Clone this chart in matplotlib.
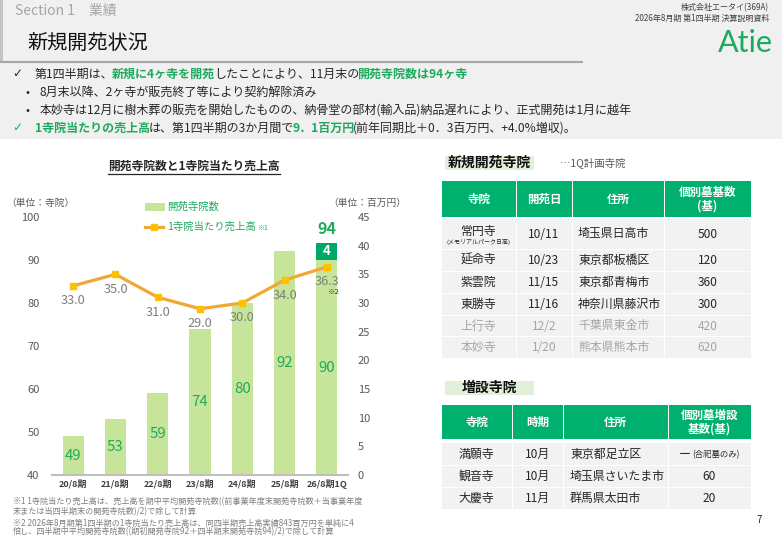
import numpy as np
import matplotlib
matplotlib.use('Agg')
import matplotlib.pyplot as plt
from matplotlib.patches import Rectangle

plt.rcParams['font.family'] = ['Noto Sans CJK JP', 'DejaVu Sans']

# ---------------- data ----------------
periods = ['20/8期', '21/8期', '22/8期', '23/8期', '24/8期', '25/8期', '26/8期1Q']
temples = [49, 53, 59, 74, 80, 92, 90]
new_open = [0, 0, 0, 0, 0, 0, 4]
sales_per_temple = [33.0, 35.0, 31.0, 29.0, 30.0, 34.0, 36.3]
left_ticks = [40, 50, 60, 70, 80, 90, 100]
right_ticks = [0, 5, 10, 15, 20, 25, 30, 35, 40, 45]

tbl1_header = ['寺院', '開苑日', '住所', '個別墓基数\n(基)']
tbl1_temple = ['常円寺', '延命寺', '紫雲院', '東勝寺', '上行寺', '本妙寺']
tbl1_date = ['10/11', '10/23', '11/15', '11/16', '12/2', '1/20']
tbl1_addr = ['埼玉県日高市', '東京都板橋区', '東京都青梅市', '神奈川県藤沢市', '千葉県東金市', '熊本県熊本市']
tbl1_graves = ['500', '120', '360', '300', '420', '620']
tbl1_planned = [False, False, False, False, True, True]

tbl2_header = ['寺院', '時期', '住所', '個別墓増設\n基数(基)']
tbl2_temple = ['満願寺', '観音寺', '大慶寺']
tbl2_period = ['10月', '10月', '11月']
tbl2_addr = ['東京都足立区', '埼玉県さいたま市', '群馬県太田市']
tbl2_graves = ['ー', '60', '20']

# ---------------- colours ----------------
GREEN_TXT = '#1EAA5E'
GREEN_HDR = '#00B06E'
BAR_LIGHT = '#C6E59B'
BAR_DARK = '#00A867'
ORANGE = '#F0A832'
YELLOW = '#FFC000'
DARK = '#262626'
GRAY = '#595959'

fig = plt.figure(figsize=(7.82, 5.4), dpi=100)
fig.patch.set_facecolor('white')
bg = fig.add_axes([0, 0, 1, 1])
bg.set_xlim(0, 782)
bg.set_ylim(540, 0)
bg.axis('off')
renderer = fig.canvas.get_renderer()

# header band
bg.add_patch(Rectangle((0, 0), 782, 139, color='#F0F0F0', lw=0))
bg.add_patch(Rectangle((0, 0), 3, 62, color='#C4C4C4', lw=0))
bg.plot([0, 583], [62, 62], color='#A6A6A6', lw=1.5, solid_capstyle='butt')

bg.text(15, 11, 'Section 1　業績', fontsize=10, color='#A6A6A6', va='center', ha='left')
bg.text(27, 43, '新規開苑状況', fontsize=14.5, color='#111111', va='center', ha='left')
bg.text(769, 8, '株式会社エータイ(369A)', fontsize=5.8, color='#404040', va='center', ha='right')
bg.text(769, 18, '2026年8月期 第1四半期 決算説明資料', fontsize=5.8, color='#404040', va='center', ha='right')
bg.text(773, 43, 'Atie', fontsize=22, color='#1DAA60', va='center', ha='right',
        family=['Lato', 'DejaVu Sans'])


def runs(x, y, parts, fs):
    for txt, col, w in parts:
        t = bg.text(x, y, txt, fontsize=fs, color=col, weight=w, va='center', ha='left')
        bb = t.get_window_extent(renderer=renderer)
        x += bb.width - 1.5


FS = 8.65
bg.text(12, 74, '✓', fontsize=FS, color=DARK, va='center', ha='left', family=['DejaVu Sans'])
runs(35, 74, [('第1四半期は、', DARK, 'normal'), ('新規に4ヶ寺を開苑', GREEN_TXT, 'bold'),
              ('したことにより、11月末の', DARK, 'normal'), ('開苑寺院数は94ヶ寺', GREEN_TXT, 'bold')], FS)
bg.text(25, 92, '•', fontsize=FS, color=DARK, va='center', ha='left')
runs(40, 92, [('8月末以降、2ヶ寺が販売終了等により契約解除済み', DARK, 'normal')], FS)
bg.text(25, 110, '•', fontsize=FS, color=DARK, va='center', ha='left')
runs(40, 110, [('本妙寺は12月に樹木葬の販売を開始したものの、納骨堂の部材(輸入品)納品遅れにより、正式開苑は1月に越年', DARK, 'normal')], FS)
bg.text(12, 128, '✓', fontsize=FS, color=GREEN_TXT, va='center', ha='left', family=['DejaVu Sans'])
runs(35, 128, [('1寺院当たりの売上高', GREEN_TXT, 'bold'), ('は、第1四半期の3か月間で', DARK, 'normal'),
               ('9．1百万円', GREEN_TXT, 'bold'), ('(前年同期比＋0．3百万円、+4.0%増収)。', DARK, 'normal')], FS)

# ---------------- chart ----------------
t = bg.text(194, 166, '開苑寺院数と1寺院当たり売上高', fontsize=8.5, weight='bold', color=DARK,
            ha='center', va='center')
bb = t.get_window_extent(renderer=renderer)
bg.plot([bb.x0, bb.x1], [174, 174], color=DARK, lw=0.9)

bg.text(40, 203, '（単位：寺院）', fontsize=7, color=GRAY, ha='center', va='center')
bg.text(367, 203, '（単位：百万円）', fontsize=7, color=GRAY, ha='center', va='center')

ax = fig.add_axes([52 / 782, 65 / 540, 296 / 782, 258 / 540])
ax.set_facecolor('none')
x = np.arange(len(periods))
ax.bar(x, temples, width=0.5, color=BAR_LIGHT, zorder=2)
ax.bar(x, new_open, width=0.5, bottom=temples, color=BAR_DARK, zorder=2)
ax.set_xlim(-0.5, 6.5)
ax.set_ylim(40, 100)
ax.set_yticks(left_ticks)
ax.set_xticks(x)
ax.set_xticklabels(periods, fontsize=6.5, color='#404040', weight='bold')
ax.tick_params(axis='y', length=0, labelsize=8, labelcolor=GRAY, pad=9)
ax.tick_params(axis='x', length=0, pad=3)
for s in ['top', 'left', 'right']:
    ax.spines[s].set_visible(False)
ax.spines['bottom'].set_color('#BFBFBF')
ax.spines['bottom'].set_linewidth(1.5)

for xi, v in zip(x, temples):
    ax.text(xi, (40 + v) / 2, f'{v}', ha='center', va='center', fontsize=10.8, color=GREEN_TXT, zorder=3)
for xi, v, n in zip(x, temples, new_open):
    if n:
        ax.text(xi, v + n / 2, f'{n}', ha='center', va='center', fontsize=9.5, color='white',
                weight='bold', zorder=3)
        ax.annotate(f'{v + n}', (xi, v + n), xytext=(0, 14), textcoords='offset pixels',
                    ha='center', va='center', fontsize=11.5, color=GREEN_TXT, weight='bold')

ax2 = ax.twinx()
ax2.set_ylim(0, 45)
ax2.set_yticks(right_ticks)
ax2.tick_params(axis='y', length=0, labelsize=8, labelcolor=GRAY, pad=7)
for s in ['top', 'left', 'right', 'bottom']:
    ax2.spines[s].set_visible(False)
ax2.plot(x, sales_per_temple, color=ORANGE, lw=2.3, marker='s', ms=4.5, mfc=YELLOW, mec=YELLOW,
         zorder=4)
for xi, v in zip(x, sales_per_temple):
    ax2.annotate(f'{v:.1f}', (xi, v), xytext=(0, -15), textcoords='offset pixels',
                 ha='center', va='center', fontsize=9.2, color='#7F7F7F')
ax2.annotate('※2', (x[-1], sales_per_temple[-1]), xytext=(7, -25), textcoords='offset pixels',
             ha='center', va='center', fontsize=5.5, color='#404040')

# legend (manual)
bg.add_patch(Rectangle((145, 203), 20, 8, color=BAR_LIGHT, lw=0))
bg.text(167, 207, '開苑寺院数', fontsize=7.5, color=GREEN_TXT, ha='left', va='center')
bg.plot([145, 163], [227, 227], color=ORANGE, lw=2.3)
bg.plot([154], [227], marker='s', ms=4.5, mfc=YELLOW, mec=YELLOW)
t = bg.text(167, 227, '1寺院当たり売上高', fontsize=7.5, color=GREEN_TXT, ha='left', va='center')
bb = t.get_window_extent(renderer=renderer)
bg.text(bb.x1 + 1, 228, '※1', fontsize=5, color=GREEN_TXT, ha='left', va='center')

# footnotes
notes = ['※1 1寺院当たり売上高は、売上高を期中平均開苑寺院数((前事業年度末開苑寺院数＋当事業年度',
         '末または当四半期末の開苑寺院数)/2)で除して計算',
         '※2 2026年8月期第1四半期の1寺院当たり売上高は、同四半期売上高実績843百万円を単純に4',
         '倍し、四半期中平均開苑寺院数((期初開苑寺院92＋四半期末開苑寺院94)/2)で除して計算']
for ny, s in zip([502, 512, 523, 532], notes):
    bg.text(13, ny, s, fontsize=5.85, color='#7F7F7F', ha='left', va='center')

# ---------------- tables ----------------
def label_box(x0, y0, w, h, text):
    bg.add_patch(Rectangle((x0, y0), w, h, color='#E2F0D9', lw=0))
    bg.text(x0 + w / 2, y0 + h / 2, text, fontsize=10, weight='bold', color='#111111',
            ha='center', va='center')


def draw_table(edges, hdr_y, row_bounds, header, columns, planned, left_col_x, rowfs=8.6):
    for i in range(4):
        bg.add_patch(Rectangle((edges[i] + 0.5, hdr_y[0]), edges[i + 1] - edges[i] - 1,
                               hdr_y[1] - hdr_y[0], color=GREEN_HDR, lw=0))
        bg.text((edges[i] + edges[i + 1]) / 2, (hdr_y[0] + hdr_y[1]) / 2, header[i], fontsize=8.3,
                weight='bold', color='white', ha='center', va='center', linespacing=1.05)
    for r, (y0, y1) in enumerate(row_bounds):
        col = '#A6A6A6' if planned[r] else DARK
        for i in range(4):
            bg.add_patch(Rectangle((edges[i] + 0.5, y0), edges[i + 1] - edges[i] - 1, y1 - y0,
                                   color='#F2F2F2', lw=0))
        yc = (y0 + y1) / 2
        for i in range(4):
            txt = columns[i][r]
            if i == 2:
                bg.text(left_col_x, yc, txt, fontsize=rowfs, color=col, ha='left', va='center')
            else:
                bg.text((edges[i] + edges[i + 1]) / 2, yc, txt, fontsize=rowfs, color=col,
                        ha='center', va='center')


label_box(445, 156, 89, 14, '新規開苑寺院')
bg.text(560, 163, '…1Q計画寺院', fontsize=7.5, color=GRAY, ha='left', va='center')
t1_cols = [list(tbl1_temple), tbl1_date, tbl1_addr, tbl1_graves]
t1_cols[0][0] = ''
draw_table([441, 516, 572, 664, 751], (181, 217),
           [(219, 249), (250, 271), (272, 293), (294, 315), (316, 336), (337, 358)],
           tbl1_header, t1_cols, tbl1_planned, 578)
bg.text(478.5, 231, tbl1_temple[0], fontsize=8.6, color=DARK, ha='center', va='center')
bg.text(478.5, 242, '(メモリアルパーク日高)', fontsize=4.3, color=DARK, ha='center', va='center')

label_box(445, 381, 89, 14, '増設寺院')
t2_cols = [tbl2_temple, tbl2_period, tbl2_addr, list(tbl2_graves)]
t2_cols[3][0] = ''
draw_table([441, 512, 563, 668, 751], (405, 439), [(443, 465), (466, 487), (488, 509)],
           tbl2_header, t2_cols, [False, False, False], 570)
t = bg.text(679, 454, tbl2_graves[0], fontsize=8.6, color=DARK, ha='left', va='center')
bb = t.get_window_extent(renderer=renderer)
bg.text(bb.x1 + 1, 455, '(合祀墓のみ)', fontsize=6, color=DARK, ha='left', va='center')

bg.text(759, 520, '7', fontsize=7, color=DARK, ha='center', va='center', style='italic')

fig.savefig('out.png', dpi=100)
